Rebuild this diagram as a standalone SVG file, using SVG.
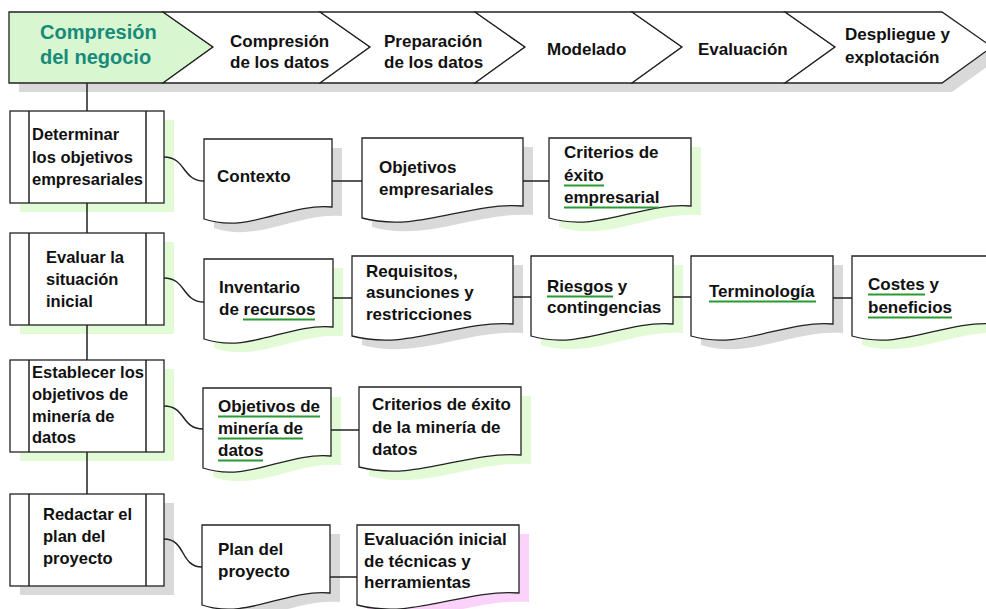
<svg xmlns="http://www.w3.org/2000/svg" width="986" height="609" viewBox="0 0 986 609">
<defs>
<style>
text{font-family:"Liberation Sans",Arial,sans-serif;font-weight:bold;fill:#111;}
.h{font-size:17px;}
.t{font-size:20px;fill:#178a7b;}
.b{font-size:16.5px;}
.d{font-size:17px;}
.o{fill:#fff;stroke:#222;stroke-width:1.3;}
.sg{fill:#d9d9d9;}
.sl{fill:#e2fbd6;}
.sp{fill:#fbd3fa;}
.u{stroke:#2a9a33;stroke-width:2;}
.c{fill:none;stroke:#222;stroke-width:1.5;}
</style>
</defs>
<rect width="986" height="609" fill="#fff"/>

<!-- banner shadow -->
<polygon class="sg" points="19,21 952,21 1002,56 952,92 19,92"/>

<g id="phase1">
<polygon points="9,12 163,12 213,47 163,83 9,83" fill="#d8f6cf" stroke="#222" stroke-width="1.3"/>
<text class="t" x="40" y="39">Compresión</text>
<text class="t" x="40" y="64">del negocio</text>
</g>
<g id="phase2">
<polygon class="o" points="163,12 320,12 370,47 320,83 163,83 213,47"/>
<text class="h" x="230" y="47">Compresión</text>
<text class="h" x="230" y="68">de los datos</text>
</g>
<g id="phase3">
<polygon class="o" points="320,12 475,12 525,47 475,83 320,83 370,47"/>
<text class="h" x="384" y="47">Preparación</text>
<text class="h" x="384" y="68">de los datos</text>
</g>
<g id="phase4">
<polygon class="o" points="475,12 632,12 682,47 632,83 475,83 525,47"/>
<text class="h" x="547" y="55">Modelado</text>
</g>
<g id="phase5">
<polygon class="o" points="632,12 785,12 835,47 785,83 632,83 682,47"/>
<text class="h" x="698" y="55">Evaluación</text>
</g>
<g id="phase6">
<polygon class="o" points="785,12 942,12 992,47 942,83 785,83 835,47"/>
<text class="h" x="845" y="40">Despliegue y</text>
<text class="h" x="845" y="63">explotación</text>
</g>

<!-- process boxes -->
<g id="task1">
<rect class="sl" x="20" y="120" width="154" height="92"/>
<rect class="o" x="10" y="111" width="154" height="92"/>
<line class="c" x1="29" y1="111" x2="29" y2="203"/><line class="c" x1="146" y1="111" x2="146" y2="203"/>
<text class="b" x="32" y="140">Determinar</text>
<text class="b" x="32" y="163">los objetivos</text>
<text class="b" x="32" y="185">empresariales</text>
</g>
<g id="task2">
<rect class="sl" x="20" y="242" width="154" height="92"/>
<rect class="o" x="10" y="233" width="154" height="92"/>
<line class="c" x1="29" y1="233" x2="29" y2="325"/><line class="c" x1="146" y1="233" x2="146" y2="325"/>
<text class="b" x="46" y="263">Evaluar la</text>
<text class="b" x="46" y="285">situación</text>
<text class="b" x="46" y="307">inicial</text>
</g>
<g id="task3">
<rect class="sl" x="20" y="369" width="154" height="92"/>
<rect class="o" x="10" y="360" width="154" height="92"/>
<line class="c" x1="29" y1="360" x2="29" y2="452"/><line class="c" x1="146" y1="360" x2="146" y2="452"/>
<text class="b" x="32" y="378">Establecer los</text>
<text class="b" x="32" y="400">objetivos de</text>
<text class="b" x="32" y="422">minería de</text>
<text class="b" x="32" y="443">datos</text>
</g>
<g id="task4">
<rect class="sg" x="20" y="503" width="154" height="92"/>
<rect class="o" x="10" y="494" width="154" height="92"/>
<line class="c" x1="29" y1="494" x2="29" y2="586"/><line class="c" x1="146" y1="494" x2="146" y2="586"/>
<text class="b" x="43" y="520">Redactar el</text>
<text class="b" x="43" y="542">plan del</text>
<text class="b" x="43" y="564">proyecto</text>
</g>

<!-- documents row 1 -->
<g id="contexto">
<path class="sg" transform="translate(10,9)" d="M204,139 H332 V207 C287.2,203 248.8,234 204,219 Z"/>
<path class="o" d="M204,139 H332 V207 C287.2,203 248.8,234 204,219 Z"/>
<text class="d" x="217" y="182">Contexto</text>
</g>
<g id="objetivos-empresariales">
<path class="sg" transform="translate(10,9)" d="M362,138 H523 V206 C466.6,202 418.4,233 362,218 Z"/>
<path class="o" d="M362,138 H523 V206 C466.6,202 418.4,233 362,218 Z"/>
<text class="d" x="379" y="173">Objetivos</text>
<text class="d" x="379" y="195">empresariales</text>
</g>
<g id="criterios-exito-empresarial">
<path class="sl" transform="translate(10,9)" d="M549,138 H691 V206 C641.3,202 598.7,233 549,218 Z"/>
<path class="o" d="M549,138 H691 V206 C641.3,202 598.7,233 549,218 Z"/>
<text class="d" x="564" y="158">Criterios de</text>
<text class="d" x="564" y="181">éxito</text>
<text class="d" x="564" y="203">empresarial</text>
<line class="u" x1="564" y1="185.5" x2="604" y2="185.5"/>
<line class="u" x1="564" y1="207.5" x2="659" y2="207.5"/>
</g>

<!-- documents row 2 -->
<g id="inventario">
<path class="sl" transform="translate(10,9)" d="M204,259 H333 V327 C287.8,323 249.2,354 204,339 Z"/>
<path class="o" d="M204,259 H333 V327 C287.8,323 249.2,354 204,339 Z"/>
<text class="d" x="219" y="293">Inventario</text>
<text class="d" x="219" y="315">de recursos</text>
<line class="u" x1="243" y1="319.5" x2="315" y2="319.5"/>
</g>
<g id="requisitos">
<path class="sg" transform="translate(10,9)" d="M352,256 H513 V324 C456.6,320 408.4,351 352,336 Z"/>
<path class="o" d="M352,256 H513 V324 C456.6,320 408.4,351 352,336 Z"/>
<text class="d" x="366" y="277">Requisitos,</text>
<text class="d" x="366" y="298">asunciones y</text>
<text class="d" x="366" y="320">restricciones</text>
</g>
<g id="riesgos">
<path class="sl" transform="translate(10,9)" d="M531,256 H673 V324 C623.3,320 580.7,351 531,336 Z"/>
<path class="o" d="M531,256 H673 V324 C623.3,320 580.7,351 531,336 Z"/>
<text class="d" x="547" y="292">Riesgos y</text>
<text class="d" x="547" y="313">contingencias</text>
<line class="u" x1="547" y1="296.5" x2="613" y2="296.5"/>
</g>
<g id="terminologia">
<path class="sg" transform="translate(10,9)" d="M691,256 H833 V324 C783.3,320 740.7,351 691,336 Z"/>
<path class="o" d="M691,256 H833 V324 C783.3,320 740.7,351 691,336 Z"/>
<text class="d" x="709" y="297">Terminología</text>
<line class="u" x1="709" y1="301.5" x2="816" y2="301.5"/>
</g>
<g id="costes">
<path class="sl" transform="translate(10,9)" d="M852,256 H994 V324 C944.3,320 901.7,351 852,336 Z"/>
<path class="o" d="M852,256 H994 V324 C944.3,320 901.7,351 852,336 Z"/>
<text class="d" x="868" y="290">Costes y</text>
<text class="d" x="868" y="313">beneficios</text>
<line class="u" x1="868" y1="294.5" x2="925" y2="294.5"/>
<line class="u" x1="868" y1="317.5" x2="952" y2="317.5"/>
</g>

<!-- documents row 3 -->
<g id="objetivos-mineria">
<path class="sl" transform="translate(10,9)" d="M203,388 H331 V456 C286.2,452 247.8,483 203,468 Z"/>
<path class="o" d="M203,388 H331 V456 C286.2,452 247.8,483 203,468 Z"/>
<text class="d" x="218" y="412">Objetivos de</text>
<text class="d" x="218" y="434">minería de</text>
<text class="d" x="218" y="456">datos</text>
<line class="u" x1="218" y1="416.5" x2="320" y2="416.5"/>
<line class="u" x1="218" y1="438.5" x2="303" y2="438.5"/>
<line class="u" x1="218" y1="460.5" x2="263" y2="460.5"/>
</g>
<g id="criterios-exito-mineria">
<path class="sl" transform="translate(10,9)" d="M359,387 H521 V455 C464.3,451 415.7,482 359,467 Z"/>
<path class="o" d="M359,387 H521 V455 C464.3,451 415.7,482 359,467 Z"/>
<text class="d" x="372" y="410">Criterios de éxito</text>
<text class="d" x="372" y="433">de la minería de</text>
<text class="d" x="372" y="455">datos</text>
</g>

<!-- documents row 4 -->
<g id="plan-proyecto">
<path class="sg" transform="translate(10,9)" d="M202,525 H330 V593 C285.2,589 246.8,620 202,605 Z"/>
<path class="o" d="M202,525 H330 V593 C285.2,589 246.8,620 202,605 Z"/>
<text class="d" x="218" y="555">Plan del</text>
<text class="d" x="218" y="577">proyecto</text>
</g>
<g id="evaluacion-inicial">
<path class="sp" transform="translate(10,9)" d="M357,525 H519 V593 C462.3,589 413.7,620 357,605 Z"/>
<path class="o" d="M357,525 H519 V593 C462.3,589 413.7,620 357,605 Z"/>
<text class="d" x="364" y="545">Evaluación inicial</text>
<text class="d" x="364" y="567">de técnicas y</text>
<text class="d" x="364" y="588">herramientas</text>
</g>

<g id="connectors">
<path class="c" d="M87,83 V111 M87,203 V233 M87,325 V360 M87,452 V494"/>
<path class="c" d="M164,157 C186,157 182,181 204,181"/>
<path class="c" d="M164,278 C186,278 182,302 204,302"/>
<path class="c" d="M164,406 C186,406 181,429 203,429"/>
<path class="c" d="M164,539 C186,539 180,567 202,567"/>
<path class="c" d="M332,181 H362 M523,181 H549"/>
<path class="c" d="M333,298 H352 M513,297 H531 M673,297 H691 M833,298 H852"/>
<path class="c" d="M331,430 H359"/>
<path class="c" d="M330,577 H357"/>
</g>
</svg>
